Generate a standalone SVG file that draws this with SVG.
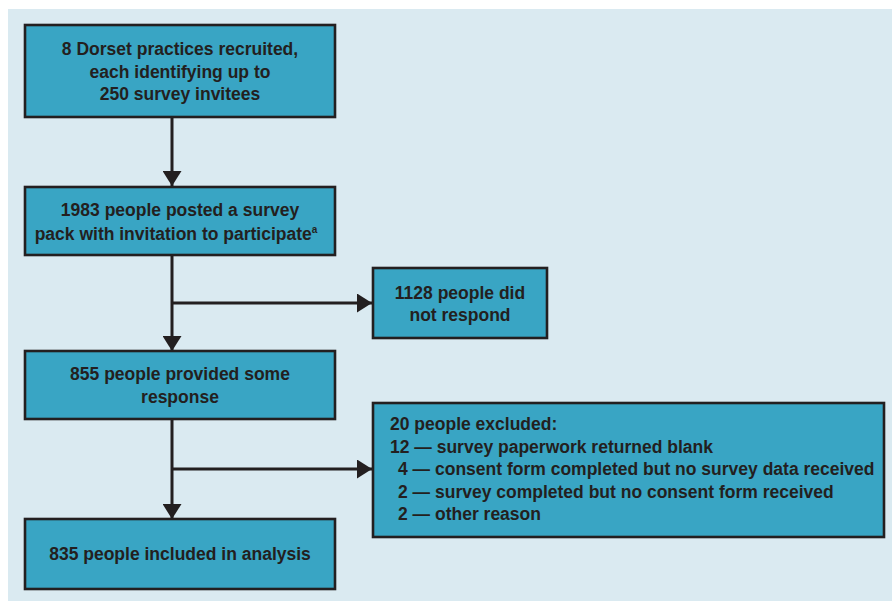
<svg xmlns="http://www.w3.org/2000/svg" width="892" height="601" viewBox="0 0 892 601">
  <style>
    .box { fill: #39a5c4; stroke: #231f20; stroke-width: 2.6; }
    .t { font-family: "Liberation Sans", Arial, sans-serif; font-weight: bold; font-size: 17.5px; fill: #231f20; }
    .c { text-anchor: middle; }
    .conn { stroke: #231f20; stroke-width: 3; fill: none; }
  </style>
  <defs>
    <marker id="arrow" markerUnits="userSpaceOnUse" markerWidth="16" markerHeight="19" refX="15" refY="9.5" orient="auto" viewBox="0 0 16 19">
      <path d="M0,0 L15,9.5 L0,19 z" fill="#231f20"/>
    </marker>
  </defs>
  <rect x="0" y="0" width="892" height="601" fill="#ffffff"/>
  <rect x="8" y="9" width="884" height="592" fill="#daeaf1"/>

  <g id="connectors">
    <line class="conn" x1="172" y1="117" x2="172" y2="186" marker-end="url(#arrow)"/>
    <line class="conn" x1="172" y1="255" x2="172" y2="351" marker-end="url(#arrow)"/>
    <line class="conn" x1="172" y1="303" x2="372" y2="303" marker-end="url(#arrow)"/>
    <line class="conn" x1="172" y1="419" x2="172" y2="519" marker-end="url(#arrow)"/>
    <line class="conn" x1="172" y1="469" x2="372" y2="469" marker-end="url(#arrow)"/>
  </g>

  <g id="node-recruited">
    <rect class="box" x="25" y="25" width="310" height="92"/>
    <text class="t c" x="180" y="55">8 Dorset practices recruited,</text>
    <text class="t c" x="180" y="77.5">each identifying up to</text>
    <text class="t c" x="180" y="100">250 survey invitees</text>
  </g>

  <g id="node-posted">
    <rect class="box" x="25" y="187" width="310" height="68"/>
    <text class="t c" x="180" y="216">1983 people posted a survey</text>
    <text class="t c" x="176" y="240">pack with invitation to participate<tspan font-size="10" dy="-7">a</tspan></text>
  </g>

  <g id="node-noresponse">
    <rect class="box" x="373" y="268" width="174" height="70"/>
    <text class="t c" x="460" y="298.5">1128 people did</text>
    <text class="t c" x="460" y="320.5">not respond</text>
  </g>

  <g id="node-response">
    <rect class="box" x="25" y="351" width="310" height="68"/>
    <text class="t c" x="180" y="380">855 people provided some</text>
    <text class="t c" x="180" y="402.5">response</text>
  </g>

  <g id="node-excluded">
    <rect class="box" x="373" y="403" width="511" height="134"/>
    <text class="t" x="390" y="430">20 people excluded:</text>
    <text class="t" x="390" y="452.5">12 — survey paperwork returned blank</text>
    <text class="t" x="398" y="475">4 — consent form completed but no survey data received</text>
    <text class="t" x="398" y="497.5">2 — survey completed but no consent form received</text>
    <text class="t" x="398" y="520">2 — other reason</text>
  </g>

  <g id="node-included">
    <rect class="box" x="25" y="519" width="310" height="70"/>
    <text class="t c" x="180" y="559.5">835 people included in analysis</text>
  </g>
</svg>
